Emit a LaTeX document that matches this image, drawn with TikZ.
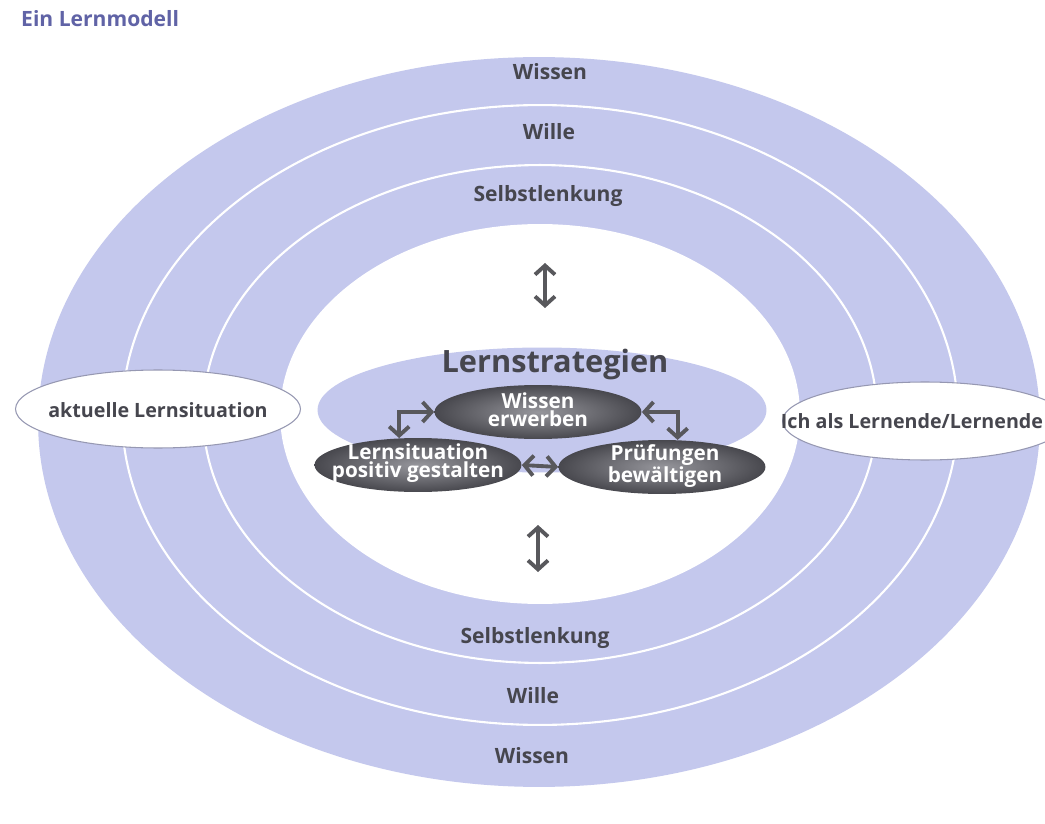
\documentclass[tikz,border=0pt]{standalone}
\usepackage{fontspec}
\setmainfont{Open Sans}
\usepackage{tikz}
\usetikzlibrary{shapes.geometric}
\usetikzlibrary{arrows.meta}
\tikzset{>={Straight Barb[length=1.8mm,width=4mm]}}
\definecolor{ringblue}{RGB}{196,200,237}
\definecolor{titleblue}{RGB}{96,99,166}
\definecolor{textgray}{RGB}{70,70,78}
\definecolor{arrowgray}{RGB}{88,88,92}
\definecolor{rimgray}{RGB}{150,152,178}
\definecolor{darkin}{RGB}{150,150,156}
\definecolor{darkout}{RGB}{72,72,78}
\tikzset{
  ringlabel/.style={anchor=base, text=textgray, font=\bfseries\fontsize{12}{14}\selectfont},
  sidelabel/.style={anchor=base, text=textgray, font=\bfseries\fontsize{11.2}{13}\selectfont},
  sidebox/.style={ellipse, draw=rimgray, fill=white, line width=0.6pt,
    minimum width=5.7cm, minimum height=1.56cm, inner sep=0pt},
  stratbox/.style={ellipse, fill=ringblue, minimum width=8.98cm, minimum height=2.5cm, inner sep=0pt},
  darkbox/.style={ellipse, inner color=darkin, outer color=darkout,
    minimum width=4.14cm, minimum height=1.08cm, inner sep=0pt},
  darktext/.style={text=white, align=center, font=\bfseries\fontsize{11.8}{10.5}\selectfont},
  dbl/.style={<->, line width=2.2pt, draw=arrowgray},
}

\begin{document}
\begin{tikzpicture}[x=0.02cm, y=-0.02cm]
    \useasboundingbox (0,0) rectangle (1045,824);
    \clip (0,0) rectangle (1045,824);
    \fill[white] (0,0) rectangle (1045,824);

    \fill[ringblue] (539,422) ellipse [x radius=10.02cm, y radius=7.3cm];
    \draw[white, line width=1.2pt] (540,415) ellipse [x radius=8.36cm, y radius=6.2cm];
    \draw[white, line width=1.2pt] (540,414) ellipse [x radius=6.74cm, y radius=4.98cm];
    \fill[white] (540,414) ellipse [x radius=5.2cm, y radius=3.8cm];

    \node[anchor=base west, text=titleblue, font=\bfseries\fontsize{12}{15}\selectfont] (title) at (15,27) {Ein Lernmodell};

    \node[ringlabel] (wissenO) at (550,80) {Wissen};
    \node[ringlabel] (willeO) at (549,140) {Wille};
    \node[ringlabel] (selbstO) at (548,202) {Selbstlenkung};
    \node[ringlabel] (selbstU) at (535,643) {Selbstlenkung};
    \node[ringlabel] (willeU) at (533,703) {Wille};
    \node[ringlabel] (wissenU) at (532,763) {Wissen};

    \node[sidebox] (links) at (158,409) {};
    \node[sidelabel] (linkstxt) at (158,417) {aktuelle Lernsituation};
    \node[sidebox] (rechts) at (925,421) {};
    \node[sidelabel] (rechtstxt) at (912,428) {Ich als Lernende/Lernende};

    \node[stratbox] (strat) at (542,410) {};
    \node[anchor=base, text=textgray, font=\bfseries\fontsize{17.5}{20}\selectfont] (strattxt) at (555,373) {Lernstrategien};

    \node[darkbox] (wissen) at (538,412) {};
    \node[darktext] (wissentxt) at (538,410) {Wissen\\erwerben};
    \node[darkbox] (lernsit) at (418,465) {};
    \node[darktext] (lernsittxt) at (418,463) {Lernsituation\\positiv gestalten};
    \node[darkbox] (pruef) at (662,467) {};
    \node[darktext] (prueftxt) at (665,466) {Prüfungen\\bewältigen};

    \draw[dbl] (wissen.west) -| (lernsit.125);
    \draw[dbl] (wissen.east) -| (pruef.60);
    \draw[dbl] (lernsit.east) -- (pruef.west);

    \coordinate (obenA) at (545,263);
    \coordinate (obenB) at (545,308);
    \coordinate (untenA) at (538,525);
    \coordinate (untenB) at (538,572);
    \draw[dbl] (obenA) -- (obenB);
    \draw[dbl] (untenA) -- (untenB);
\end{tikzpicture}
\end{document}
